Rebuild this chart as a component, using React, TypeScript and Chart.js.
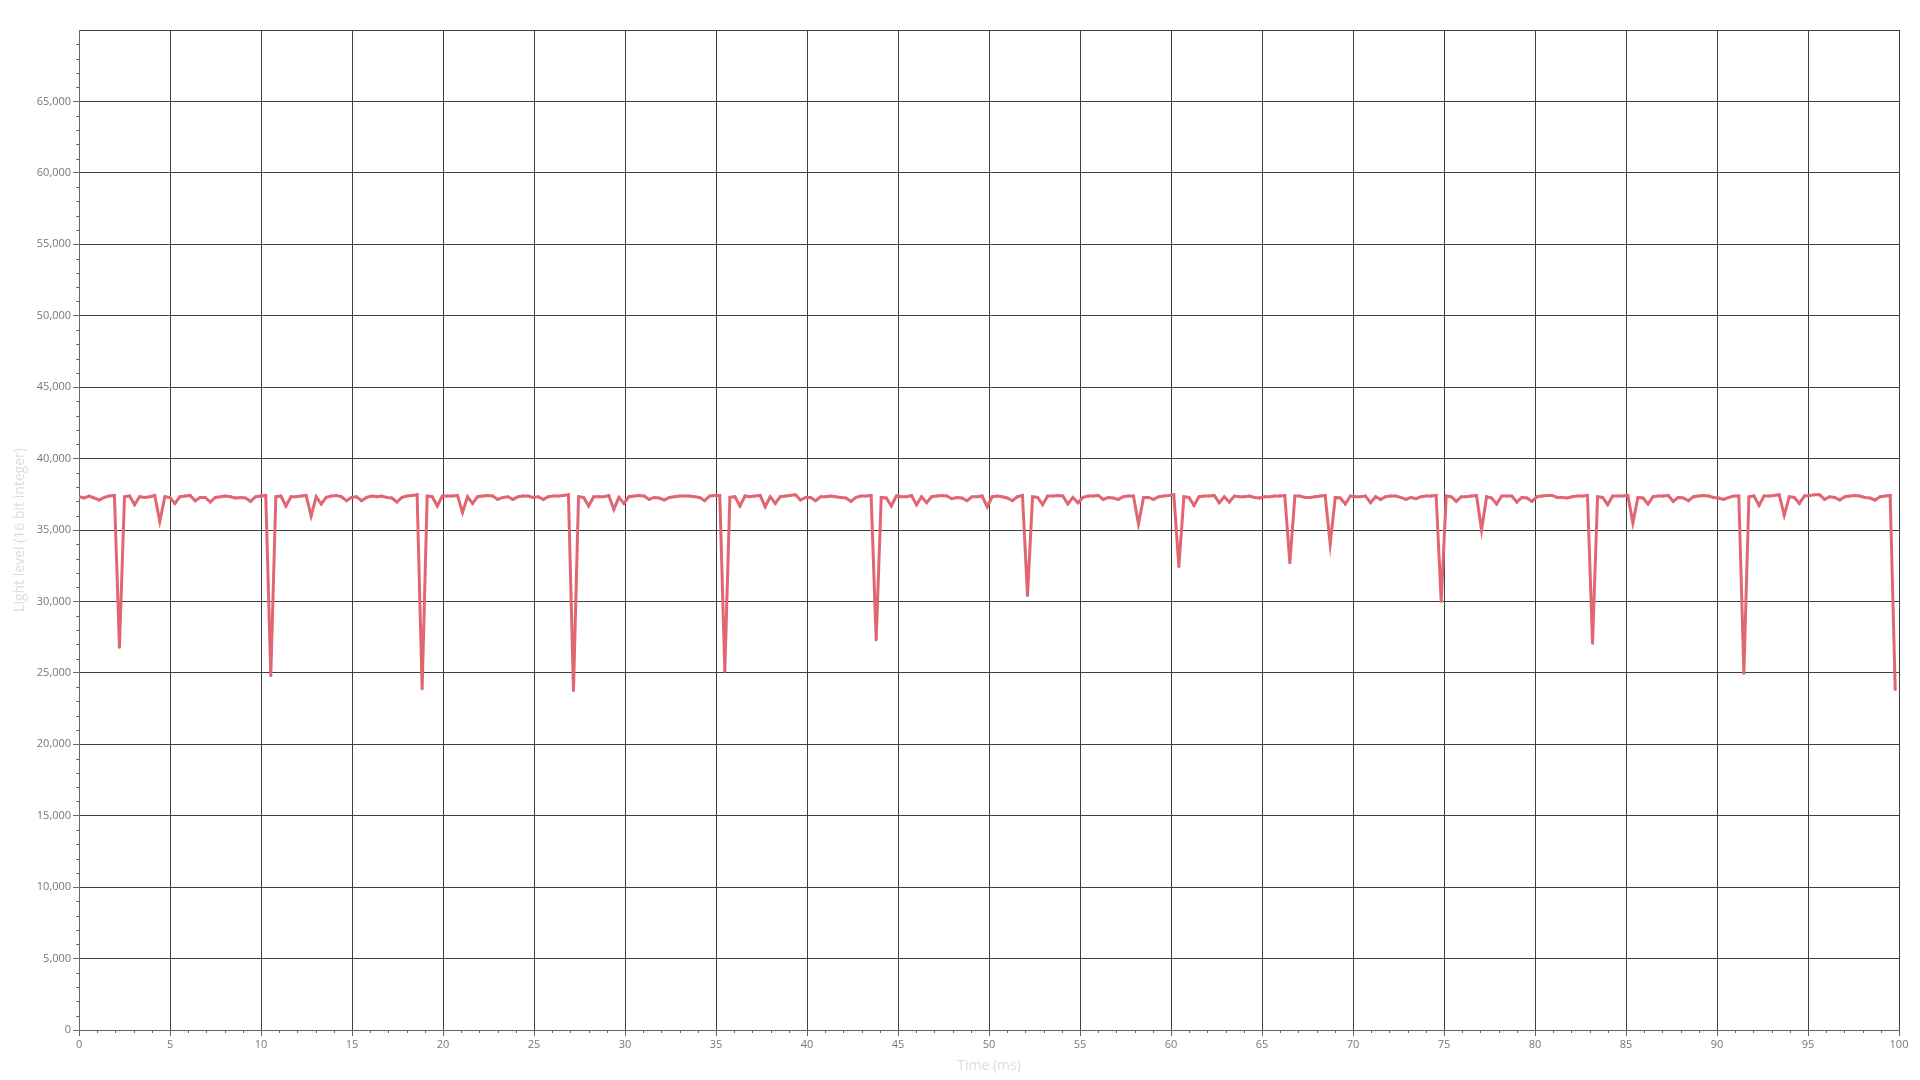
import React, { useEffect, useRef } from 'react';
import { Chart, registerables } from 'chart.js';

Chart.register(...registerables);

// Sampling interval of the light sensor (ms per sample)
const SAMPLE_INTERVAL_MS = 0.2772;

// Light level samples (16 bit integer), one per sample interval, starting at t = 0
const LIGHT_LEVEL: number[] = [
  37330, 37240, 37380, 37240, 37100, 37280, 37380, 37420, 26800, 37330,
  37380, 36770, 37330, 37280, 37330, 37420, 35600, 37330, 37280, 36860,
  37330, 37380, 37420, 37050, 37280, 37280, 36960, 37280, 37330, 37380,
  37330, 37240, 37280, 37240, 37000, 37330, 37380, 37420, 24820, 37330,
  37380, 36680, 37330, 37330, 37380, 37420, 35980, 37330, 36820, 37280,
  37380, 37420, 37330, 37050, 37280, 37330, 37050, 37280, 37380, 37330,
  37380, 37280, 37240, 36960, 37280, 37380, 37420, 37470, 23890, 37380,
  37330, 36680, 37380, 37380, 37380, 37420, 36230, 37330, 36860, 37330,
  37380, 37420, 37380, 37140, 37280, 37330, 37140, 37330, 37380, 37380,
  37280, 37330, 37140, 37330, 37380, 37380, 37420, 37470, 23770, 37330,
  37280, 36680, 37330, 37330, 37330, 37420, 36440, 37280, 36860, 37330,
  37380, 37420, 37380, 37140, 37280, 37240, 37100, 37280, 37330, 37380,
  37380, 37380, 37330, 37280, 37050, 37380, 37420, 37420, 25120, 37280,
  37330, 36680, 37380, 37330, 37380, 37420, 36630, 37330, 36860, 37330,
  37380, 37420, 37470, 37100, 37280, 37280, 37050, 37330, 37330, 37380,
  37330, 37280, 37240, 37000, 37280, 37380, 37380, 37420, 27310, 37280,
  37240, 36680, 37380, 37330, 37330, 37420, 36770, 37330, 36910, 37330,
  37380, 37420, 37380, 37190, 37280, 37240, 37050, 37330, 37330, 37380,
  36630, 37330, 37380, 37330, 37240, 37050, 37330, 37420, 30410, 37330,
  37280, 36770, 37380, 37380, 37420, 37380, 36820, 37280, 36910, 37280,
  37380, 37380, 37420, 37140, 37280, 37240, 37140, 37330, 37380, 37380,
  35420, 37280, 37280, 37140, 37330, 37380, 37420, 37470, 32440, 37330,
  37280, 36720, 37330, 37380, 37380, 37420, 36910, 37330, 36960, 37380,
  37330, 37330, 37380, 37280, 37240, 37330, 37330, 37380, 37380, 37420,
  32700, 37380, 37380, 37280, 37280, 37330, 37380, 37420, 34020, 37280,
  37240, 36820, 37380, 37330, 37330, 37380, 36910, 37330, 37140, 37330,
  37380, 37380, 37280, 37140, 37280, 37190, 37330, 37380, 37380, 37420,
  30010, 37380, 37330, 37000, 37330, 37330, 37380, 37420, 35000, 37330,
  37240, 36820, 37380, 37380, 37380, 36960, 37280, 37240, 37000, 37330,
  37380, 37420, 37420, 37280, 37280, 37240, 37330, 37380, 37380, 37420,
  27080, 37330, 37280, 36770, 37380, 37380, 37380, 37420, 35510, 37280,
  37240, 36820, 37330, 37380, 37380, 37420, 37000, 37280, 37240, 37050,
  37330, 37380, 37420, 37380, 37280, 37240, 37140, 37280, 37380, 37380,
  24980, 37330, 37380, 36720, 37380, 37380, 37420, 37470, 36030, 37330,
  37280, 36860, 37380, 37420, 37470, 37470, 37140, 37330, 37280, 37100,
  37330, 37380, 37420, 37380, 37280, 37240, 37100, 37330, 37380, 37420,
  23840,
];

// Axis ranges and ticks
const X_MIN = 0;
const X_MAX = 100;
const X_MAJOR_STEP = 5;
const X_MINOR_STEP = 1;
const Y_MIN = 0;
const Y_MAX = 70000;
const Y_LABEL_MAX = 65000;
const Y_MAJOR_STEP = 5000;
const Y_MINOR_STEP = 1000;

const X_TITLE = 'Time (ms)';
const Y_TITLE = 'Light level (16 bit integer)';

const LINE_COLOR = 'rgb(226, 102, 114)';
const GRID_COLOR = '#3e3e3e';
const AXIS_COLOR = '#666666';
const TICK_TEXT_COLOR = '#777777';
const TITLE_COLOR = '#dcdcdc';
const FONT_FAMILY = '"Open Sans", "Noto Sans", sans-serif';

const minorTicksPlugin = {
  id: 'minorTicks',
  afterDraw(chart: any) {
    const ctx = chart.ctx;
    const xs = chart.scales.x;
    const ys = chart.scales.y;
    const area = chart.chartArea;
    ctx.save();
    ctx.strokeStyle = AXIS_COLOR;
    ctx.lineWidth = 1;
    ctx.beginPath();
    for (let v = X_MIN; v <= X_MAX + 1e-9; v += X_MINOR_STEP) {
      if (Math.abs(v % X_MAJOR_STEP) < 1e-9) continue;
      const px = Math.round(xs.getPixelForValue(v)) + 0.5;
      ctx.moveTo(px, area.bottom);
      ctx.lineTo(px, area.bottom + 3);
    }
    for (let v = Y_MIN; v < Y_MAX; v += Y_MINOR_STEP) {
      if (v % Y_MAJOR_STEP === 0) continue;
      const py = Math.round(ys.getPixelForValue(v)) + 0.5;
      ctx.moveTo(area.left - 3, py);
      ctx.lineTo(area.left, py);
    }
    ctx.stroke();
    ctx.restore();
  },
};

export default function App() {
  const canvasRef = useRef<HTMLCanvasElement | null>(null);

  useEffect(() => {
    document.body.style.margin = '0';
    document.body.style.background = '#ffffff';
    const canvas = canvasRef.current;
    if (!canvas) return;

    const points = LIGHT_LEVEL.map((v, i) => ({ x: i * SAMPLE_INTERVAL_MS, y: v }));

    const chart = new Chart(canvas, {
      type: 'line',
      data: {
        datasets: [
          {
            label: Y_TITLE,
            data: points,
            borderColor: LINE_COLOR,
            backgroundColor: LINE_COLOR,
            borderWidth: 3,
            pointRadius: 1.5,
            pointBorderWidth: 0,
            pointBackgroundColor: LINE_COLOR,
            tension: 0,
            fill: false,
          },
        ],
      },
      options: {
        animation: false,
        responsive: false,
        maintainAspectRatio: false,
        layout: { padding: { left: 12, right: 21, top: 30, bottom: 6 } },
        plugins: {
          legend: { display: false },
          tooltip: { enabled: false },
        },
        scales: {
          x: {
            type: 'linear',
            min: X_MIN,
            max: X_MAX,
            grid: {
              color: GRID_COLOR,
              lineWidth: 1,
              tickLength: 6,
              tickColor: AXIS_COLOR,
            },
            border: { color: AXIS_COLOR },
            ticks: {
              stepSize: X_MAJOR_STEP,
              autoSkip: false,
              maxRotation: 0,
              padding: 2,
              color: TICK_TEXT_COLOR,
              font: { family: FONT_FAMILY, size: 11 },
            },
            title: {
              display: true,
              text: X_TITLE,
              color: TITLE_COLOR,
              font: { family: FONT_FAMILY, size: 14 },
              padding: { top: 4, bottom: 0 },
            },
          },
          y: {
            type: 'linear',
            min: Y_MIN,
            max: Y_MAX,
            grid: {
              color: GRID_COLOR,
              lineWidth: 1,
              tickLength: 6,
              tickColor: (ctx: any) =>
                ctx.tick && ctx.tick.value <= Y_LABEL_MAX ? AXIS_COLOR : 'rgba(0,0,0,0)',
            },
            border: { color: AXIS_COLOR },
            ticks: {
              stepSize: Y_MAJOR_STEP,
              autoSkip: false,
              padding: 2,
              color: TICK_TEXT_COLOR,
              font: { family: FONT_FAMILY, size: 11 },
              callback: (value: any) =>
                Number(value) <= Y_LABEL_MAX ? Number(value).toLocaleString('en-US') : '',
            },
            title: {
              display: true,
              text: Y_TITLE,
              color: TITLE_COLOR,
              font: { family: FONT_FAMILY, size: 14 },
              padding: { top: 0, bottom: 6 },
            },
          },
        },
      },
      plugins: [minorTicksPlugin],
    });

    return () => {
      chart.destroy();
    };
  }, []);

  return (
    <div style={{ width: 1920, height: 1080, background: '#ffffff' }}>
      <canvas ref={canvasRef} width={1920} height={1080} style={{ display: 'block' }} />
    </div>
  );
}
